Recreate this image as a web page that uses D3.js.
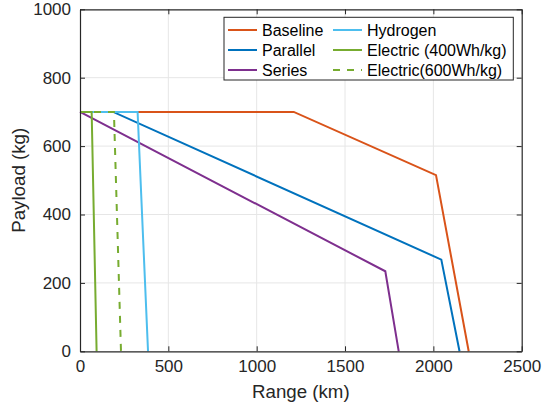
<!DOCTYPE html>
<meta charset="utf-8">
<style>
body { margin: 0; background: #fff; }
svg { font-family: "Liberation Sans", Arial, sans-serif; }
.grid line { stroke: #e6e6e6; stroke-width: 1; }
.axis text { font-size: 17px; fill: #262626; }
.axis path, .axis line { stroke: #262626; }
</style>
<svg width="542" height="408"></svg>
<script src="https://cdn.jsdelivr.net/npm/d3@7"></script>
<script>

// data: [range km, payload kg]
var baseline = [[0, 700], [1210, 700], [2015, 515], [2200, 0]];
var parallel = [[0, 700], [188, 700], [2045, 268], [2148, 0]];
var series = [[0, 700], [1728, 234], [1804, 0]];
var hydrogen = [[0, 700], [326, 700], [385, 0]];
var electric400 = [[0, 700], [66, 700], [94, 0]];
var electric600 = [[0, 700], [192, 700], [232, 0]];

var xTicks = [0, 500, 1000, 1500, 2000, 2500];
var yTicks = [0, 200, 400, 600, 800, 1000];

var curves = [
  {name: "Baseline", data: baseline, color: "#D95319"},
  {name: "Parallel", data: parallel, color: "#0072BD"},
  {name: "Series", data: series, color: "#7E2F8E"},
  {name: "Hydrogen", data: hydrogen, color: "#4DBEEE"},
  {name: "Electric (400Wh/kg)", data: electric400, color: "#77AC30"},
  {name: "Electric(600Wh/kg)", data: electric600, color: "#77AC30", dash: "7,7"}
];

var svg = d3.select("svg");
var mLeft = 80, mRight = 521.7, mTop = 9.3, mBottom = 351.3;

var x = d3.scaleLinear().domain([0, 2500]).range([mLeft, mRight]);
var y = d3.scaleLinear().domain([0, 1000]).range([mBottom, mTop]);

// grid
var grid = svg.append("g").attr("class", "grid");
grid.selectAll(".gx").data(xTicks.slice(1, -1)).enter().append("line")
    .attr("x1", function(d) { return x(d); }).attr("x2", function(d) { return x(d); })
    .attr("y1", mTop).attr("y2", mBottom);
grid.selectAll(".gy").data(yTicks.slice(1, -1)).enter().append("line")
    .attr("y1", function(d) { return y(d); }).attr("y2", function(d) { return y(d); })
    .attr("x1", mLeft).attr("x2", mRight);

var line = d3.line()
    .x(function(d) { return x(d[0]); })
    .y(function(d) { return y(d[1]); });

svg.append("g").selectAll("path").data(curves).enter().append("path")
    .attr("d", function(d) { return line(d.data); })
    .attr("fill", "none")
    .attr("stroke", function(d) { return d.color; })
    .attr("stroke-width", 2)
    .attr("stroke-dasharray", function(d) { return d.dash || null; });

// axes, ticks pointing inward
var fmt = d3.format("d");
svg.append("g").attr("class", "axis")
    .attr("transform", "translate(0," + mBottom + ")")
    .call(d3.axisBottom(x).tickValues(xTicks).tickSizeInner(-5).tickSizeOuter(0).tickPadding(9).tickFormat(fmt));
svg.append("g").attr("class", "axis")
    .attr("transform", "translate(0," + mTop + ")")
    .call(d3.axisTop(x).tickValues(xTicks).tickSizeInner(-5).tickSizeOuter(0).tickFormat(""));
svg.append("g").attr("class", "axis")
    .attr("transform", "translate(" + mLeft + ",0)")
    .call(d3.axisLeft(y).tickValues(yTicks).tickSizeInner(-5).tickSizeOuter(0).tickPadding(9).tickFormat(fmt));
svg.append("g").attr("class", "axis")
    .attr("transform", "translate(" + mRight + ",0)")
    .call(d3.axisRight(y).tickValues(yTicks).tickSizeInner(-5).tickSizeOuter(0).tickFormat(""));
svg.selectAll(".axis path").attr("stroke-width", 1.2);
svg.selectAll(".axis .tick line").attr("stroke-width", 1);

svg.append("text")
    .attr("x", (mLeft + mRight) / 2).attr("y", 398)
    .attr("text-anchor", "middle")
    .style("font-size", "18.7px").style("fill", "#262626")
    .text("Range (km)");

svg.append("text")
    .attr("transform", "translate(25," + ((mTop + mBottom) / 2) + ") rotate(-90)")
    .attr("text-anchor", "middle")
    .style("font-size", "18.7px").style("fill", "#262626")
    .text("Payload (kg)");

// legend
var legend = svg.append("g");
legend.append("rect")
    .attr("x", 224).attr("y", 17.3).attr("width", 289.3).attr("height", 62.7)
    .attr("fill", "#fff").attr("stroke", "#262626").attr("stroke-width", 1);

var item = legend.selectAll(".item").data(curves).enter().append("g")
    .attr("transform", function(d, i) {
      var col = Math.floor(i / 3), row = i % 3;
      return "translate(" + (col ? 333 : 228) + "," + (30 + row * 20) + ")";
    });
item.append("line")
    .attr("x1", 0).attr("x2", 29).attr("y1", 0).attr("y2", 0)
    .attr("stroke", function(d) { return d.color; })
    .attr("stroke-width", 2)
    .attr("stroke-dasharray", function(d) { return d.dash ? "7,7" : null; });
item.append("text")
    .attr("x", 34).attr("y", 5.7)
    .style("font-size", "16px").style("fill", "#000")
    .text(function(d) { return d.name; });

</script>
